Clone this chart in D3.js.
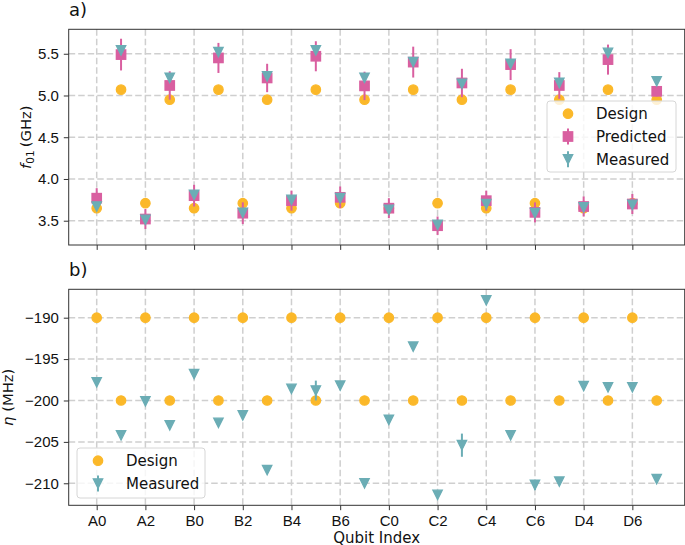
<!DOCTYPE html>
<html>
<head>
<meta charset="utf-8">
<script src="https://cdn.jsdelivr.net/npm/d3@7"></script>
<style>
  body { margin: 0; background: #fff; }
  svg { display: block; font-family: "DejaVu Sans", sans-serif; }
  .tick text { font-size: 15px; fill: #111; }
  .tick line { stroke: #333; stroke-width: 1; }
</style>
</head>
<body>
<div id="chart"></div>
<script>
// qubit labels (x categories)
var qubits = ["A0","A1","A2","A3","B0","B1","B2","B3","B4","B5","B6","B7",
              "C0","C1","C2","C3","C4","C5","C6","C7","D4","D5","D6","D7"];
var xTickIdx = [0,2,4,6,8,10,12,14,16,18,20,22];

// panel a) f01 in GHz
var f01Design = [3.65,5.07,3.71,4.95,3.65,5.07,3.71,4.95,3.65,5.07,3.71,4.95,
                 3.65,5.07,3.71,4.95,3.65,5.07,3.71,4.95,3.65,5.07,3.71,4.95];
var f01Predicted = [3.77,5.49,3.52,5.12,3.80,5.45,3.59,5.21,3.74,5.47,3.78,5.115,
                    3.65,5.40,3.44,5.15,3.74,5.37,3.60,5.12,3.67,5.43,3.70,5.05];
var f01PredErr = [0.12,0.19,0.12,0.17,0.13,0.18,0.13,0.17,0.12,0.18,0.13,0.17,
                  0.12,0.185,0.11,0.17,0.12,0.185,0.12,0.16,0.12,0.18,0.12,0.06];
var f01Measured = [3.67,5.54,3.51,5.21,3.81,5.52,3.595,5.23,3.75,5.54,3.77,5.21,
                   3.63,5.40,3.45,5.14,3.70,5.38,3.59,5.15,3.66,5.51,3.69,5.17];
var f01MeasErr = [0.01,0.01,0.01,0.01,0.01,0.01,0.01,0.01,0.01,0.01,0.01,0.01,
                  0.01,0.01,0.01,0.01,0.01,0.01,0.01,0.01,0.01,0.01,0.01,0.01];
var f01Ticks = [3.5,4.0,4.5,5.0,5.5];

// panel b) anharmonicity in MHz
var etaDesign = [-190,-200,-190,-200,-190,-200,-190,-200,-190,-200,-190,-200,
                 -190,-200,-190,-200,-190,-200,-190,-200,-190,-200,-190,-200];
var etaMeasured = [-197.8,-204.2,-200.1,-203.0,-196.8,-202.7,-201.8,-208.4,-198.6,-198.8,-198.2,-210.0,
                   -202.35,-193.5,-211.4,-205.4,-187.9,-204.2,-210.2,-209.8,-198.25,-198.4,-198.4,-209.5];
var etaMeasErr = [0.3,0.3,0.3,0.3,0.3,0.3,0.3,0.3,0.3,1.2,0.3,0.3,
                  0.3,0.3,0.3,1.4,0.3,0.3,0.6,0.3,0.3,0.3,0.3,0.3];
var etaTicks = [-190,-195,-200,-205,-210];

var W = 685, H = 545;
var cOrange = "#fbb829", cPink = "#d95fa0", cTeal = "#6badb5";
var ms = 9.4; // marker size in px

var svg = d3.select("#chart").append("svg")
    .attr("width", W).attr("height", H);

var x = d3.scaleLinear().domain([-1.15, 24.15]).range([68.7, 684.7]);
var yTop = d3.scaleLinear().domain([3.209, 5.793]).range([245, 29.3]);
var yBot = d3.scaleLinear().domain([-212.66, -186.57]).range([505.3, 289.3]);

function triPath(s) {
  var h = s / 2;
  return "M0," + h + "L" + (-h) + "," + (-h) + "L" + h + "," + (-h) + "Z";
}

// draws one panel frame: grid, axes
function drawFrame(y, yTicks, yFmt, showXLabels) {
  var top = y.range()[1], bottom = y.range()[0];
  var left = x.range()[0], right = x.range()[1];
  var g = svg.append("g");

  // grid
  g.selectAll("line.vg").data(xTickIdx).enter().append("line")
      .attr("x1", function(d){ return x(d); }).attr("x2", function(d){ return x(d); })
      .attr("y1", top).attr("y2", bottom)
      .attr("stroke", "#cfcfcf").attr("stroke-width", 1.5).attr("stroke-dasharray", "6.5,3");
  g.selectAll("line.hg").data(yTicks).enter().append("line")
      .attr("y1", function(d){ return y(d); }).attr("y2", function(d){ return y(d); })
      .attr("x1", left).attr("x2", right)
      .attr("stroke", "#cfcfcf").attr("stroke-width", 1.5).attr("stroke-dasharray", "6.5,3");

  var xAxis = d3.axisBottom(x).tickValues(xTickIdx).tickSize(4.9).tickSizeOuter(0).tickPadding(4.9)
      .tickFormat(function(d){ return showXLabels ? qubits[d] : ""; });
  var ax = g.append("g").attr("transform", "translate(0," + bottom + ")").call(xAxis);
  ax.select(".domain").remove();

  var yAxis = d3.axisLeft(y).tickValues(yTicks).tickSize(4.9).tickSizeOuter(0).tickPadding(4.9)
      .tickFormat(yFmt);
  var ay = g.append("g").attr("transform", "translate(" + left + ",0)").call(yAxis);
  ay.select(".domain").remove();
  svg.selectAll(".tick text").attr("font-family", null);

  return g;
}

function drawSpines(y) {
  var top = y.range()[1], bottom = y.range()[0];
  svg.append("rect")
      .attr("x", x.range()[0]).attr("y", top)
      .attr("width", x.range()[1] - x.range()[0]).attr("height", bottom - top)
      .attr("fill", "none").attr("stroke", "#333").attr("stroke-width", 1);
}

function drawCircles(vals, y, color) {
  svg.append("g").selectAll("circle").data(vals).enter().append("circle")
      .attr("cx", function(d, i){ return x(i); })
      .attr("cy", function(d){ return y(d); })
      .attr("r", ms / 2)
      .attr("fill", color).attr("stroke", color).attr("stroke-width", 1.3);
}

function drawErr(vals, errs, y, color) {
  svg.append("g").selectAll("line").data(vals).enter().append("line")
      .attr("x1", function(d, i){ return x(i); }).attr("x2", function(d, i){ return x(i); })
      .attr("y1", function(d, i){ return y(d - errs[i]); })
      .attr("y2", function(d, i){ return y(d + errs[i]); })
      .attr("stroke", color).attr("stroke-width", 2);
}

function drawSquares(vals, y, color) {
  svg.append("g").selectAll("rect").data(vals).enter().append("rect")
      .attr("x", function(d, i){ return x(i) - ms / 2; })
      .attr("y", function(d){ return y(d) - ms / 2; })
      .attr("width", ms).attr("height", ms)
      .attr("fill", color).attr("stroke", color).attr("stroke-width", 1.3);
}

function drawTriangles(vals, y, color) {
  svg.append("g").selectAll("path").data(vals).enter().append("path")
      .attr("transform", function(d, i){ return "translate(" + x(i) + "," + y(d) + ")"; })
      .attr("d", triPath(ms))
      .attr("fill", color).attr("stroke", color).attr("stroke-width", 1.3);
}

function drawLegend(x0, y0, w, h, items) {
  var g = svg.append("g");
  g.append("rect").attr("x", x0).attr("y", y0).attr("width", w).attr("height", h)
      .attr("rx", 3).attr("fill", "#fff").attr("fill-opacity", 0.8)
      .attr("stroke", "#d6d6d6").attr("stroke-width", 1);
  items.forEach(function(it, k) {
    var cy = y0 + 12.7 + k * 22.8, mx = x0 + 21;
    if (it.err) {
      g.append("line").attr("x1", mx).attr("x2", mx).attr("y1", cy - 8).attr("y2", cy + 8)
          .attr("stroke", it.color).attr("stroke-width", 2);
    }
    if (it.shape === "circle") {
      g.append("circle").attr("cx", mx).attr("cy", cy).attr("r", ms / 2)
          .attr("fill", it.color).attr("stroke", it.color).attr("stroke-width", 1.3);
    } else if (it.shape === "square") {
      g.append("rect").attr("x", mx - ms / 2).attr("y", cy - ms / 2).attr("width", ms).attr("height", ms)
          .attr("fill", it.color).attr("stroke", it.color).attr("stroke-width", 1.3);
    } else {
      g.append("path").attr("transform", "translate(" + mx + "," + cy + ")").attr("d", triPath(ms))
          .attr("fill", it.color).attr("stroke", it.color).attr("stroke-width", 1.3);
    }
    g.append("text").attr("x", x0 + 49).attr("y", cy + 5.4)
        .attr("font-size", 15).attr("fill", "#111").text(it.label);
  });
}

// ---------- panel a ----------
drawFrame(yTop, f01Ticks, d3.format(".1f"), false);
drawCircles(f01Design, yTop, cOrange);
drawErr(f01Predicted, f01PredErr, yTop, cPink);
drawSquares(f01Predicted, yTop, cPink);
drawErr(f01Measured, f01MeasErr, yTop, cTeal);
drawTriangles(f01Measured, yTop, cTeal);
drawSpines(yTop);
drawLegend(547, 101, 129, 71, [
  {label: "Design", shape: "circle", color: cOrange},
  {label: "Predicted", shape: "square", color: cPink, err: true},
  {label: "Measured", shape: "tri", color: cTeal, err: true}
]);

// ---------- panel b ----------
drawFrame(yBot, etaTicks, d3.format("d"), true);
drawCircles(etaDesign, yBot, cOrange);
drawErr(etaMeasured, etaMeasErr, yBot, cTeal);
drawTriangles(etaMeasured, yBot, cTeal);
drawSpines(yBot);
drawLegend(77, 448, 128, 50, [
  {label: "Design", shape: "circle", color: cOrange},
  {label: "Measured", shape: "tri", color: cTeal, err: true}
]);

// panel letters and axis titles
svg.append("text").attr("x", 69).attr("y", 15.5).attr("font-size", 18).attr("fill", "#111").text("a)");
svg.append("text").attr("x", 69).attr("y", 276).attr("font-size", 18).attr("fill", "#111").text("b)");

var yl1 = svg.append("text").attr("transform", "translate(30.5," + ((29.3 + 245) / 2) + ") rotate(-90)")
    .attr("text-anchor", "middle").attr("font-size", 14.8).attr("fill", "#111");
yl1.append("tspan").attr("font-style", "italic").text("f");
yl1.append("tspan").attr("font-size", 10.5).attr("dy", 3).text("01");
yl1.append("tspan").attr("dy", -3).text("\u2009(GHz)");

var yl2 = svg.append("text").attr("transform", "translate(12.5," + ((289.3 + 505.3) / 2) + ") rotate(-90)")
    .attr("text-anchor", "middle").attr("font-size", 14.8).attr("fill", "#111");
yl2.append("tspan").attr("font-style", "italic").text("\u03b7");
yl2.append("tspan").text(" (MHz)");

svg.append("text").attr("x", (68.7 + 684.7) / 2).attr("y", 542.5)
    .attr("text-anchor", "middle").attr("font-size", 15).attr("fill", "#111").text("Qubit Index");
</script>
</body>
</html>
